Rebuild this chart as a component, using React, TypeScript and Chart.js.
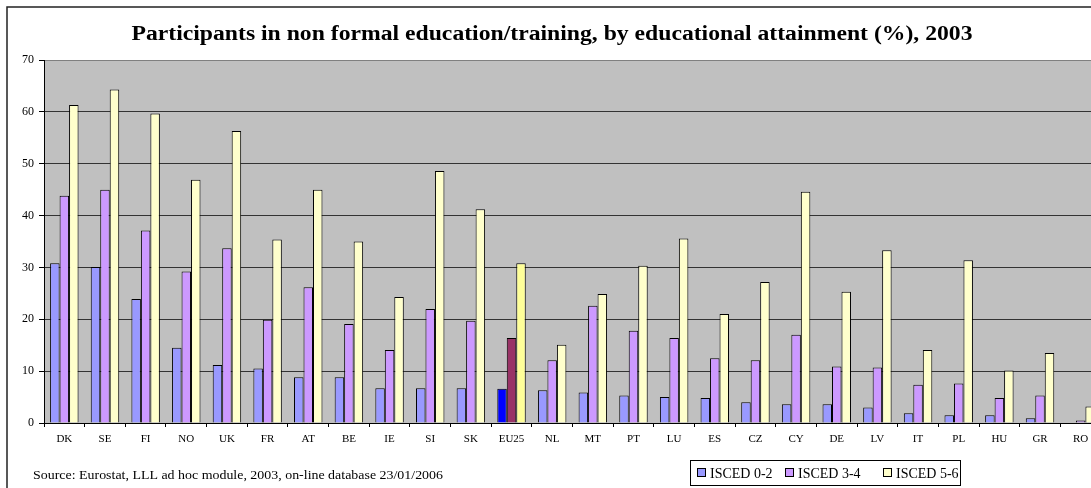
import React, { useEffect, useRef } from 'react';
import { Chart, registerables } from 'chart.js';

Chart.register(...registerables);

const countries = ['DK', 'SE', 'FI', 'NO', 'UK', 'FR', 'AT', 'BE', 'IE', 'SI', 'SK', 'EU25', 'NL', 'MT', 'PT', 'LU', 'ES', 'CZ', 'CY', 'DE', 'LV', 'IT', 'PL', 'HU', 'GR', 'RO'];
const isced02 = [30.8, 30.1, 23.9, 14.5, 11.2, 10.5, 8.8, 8.8, 6.7, 6.7, 6.7, 6.6, 6.3, 5.9, 5.3, 5.0, 4.8, 4.0, 3.6, 3.6, 3.0, 1.9, 1.5, 1.5, 0.9, 0];
const isced34 = [43.8, 45.0, 37.1, 29.2, 33.7, 19.9, 26.2, 19.1, 14.1, 22.0, 19.7, 16.4, 12.1, 22.6, 17.8, 16.4, 12.5, 12.1, 17.0, 10.9, 10.7, 7.4, 7.6, 4.8, 5.3, 0.5];
const isced56 = [61.3, 64.3, 59.7, 46.9, 56.3, 35.4, 45.0, 35.0, 24.3, 48.6, 41.2, 30.8, 15.1, 24.9, 30.3, 35.6, 21.0, 27.2, 44.6, 25.3, 33.3, 14.1, 31.4, 10.1, 13.5, 3.2];
const yTicks = [0, 10, 20, 30, 40, 50, 60, 70];
const seriesLabels = ['ISCED 0-2', 'ISCED 3-4', 'ISCED 5-6'];
const highlightCategory = 'EU25';
const titleText = 'Participants in non formal education/training, by educational attainment (%), 2003';
const sourceText = 'Source: Eurostat, LLL ad hoc module, 2003, on-line database 23/01/2006';

const normalColors = ['#9999FF', '#CC99FF', '#FFFFCC'];
const highlightColors = ['#0000FF', '#993366', '#FFFF99'];
const SERIF = "'Liberation Serif', 'Times New Roman', serif";

const W = 1112;
const H = 488;

function stretchedText(ctx: CanvasRenderingContext2D, text: string, x: number, y: number, targetWidth: number, align: 'left' | 'center') {
  const w = ctx.measureText(text).width;
  const sx = targetWidth / w;
  ctx.save();
  ctx.translate(x, y);
  ctx.scale(sx, 1);
  ctx.textAlign = align;
  ctx.fillText(text, 0, 0);
  ctx.restore();
}

export default function App() {
  const ref = useRef<HTMLCanvasElement>(null);

  useEffect(() => {
    const canvas = ref.current;
    if (!canvas) return;

    const colorsFor = (i: number) =>
      countries.map((c) => (c === highlightCategory ? highlightColors[i] : normalColors[i]));

    const decor = {
      id: 'decor',
      beforeDraw(chart: any) {
        const { ctx, chartArea } = chart;
        ctx.save();
        ctx.fillStyle = '#FFFFFF';
        ctx.fillRect(0, 0, chart.width, chart.height);
        ctx.fillStyle = '#C0C0C0';
        ctx.fillRect(chartArea.left, chartArea.top, chartArea.right - chartArea.left, chartArea.bottom - chartArea.top);
        ctx.restore();
      },
      afterDraw(chart: any) {
        const { ctx } = chart;
        ctx.save();
        // outer frame
        ctx.strokeStyle = '#222222';
        ctx.lineWidth = 1.5;
        ctx.strokeRect(7, 7, 1100, 500);
        // title
        ctx.fillStyle = '#000';
        ctx.font = `bold 20px ${SERIF}`;
        ctx.textBaseline = 'alphabetic';
        stretchedText(ctx, titleText, 552, 40, 841, 'center');
        // source
        ctx.font = `13px ${SERIF}`;
        stretchedText(ctx, sourceText, 33, 479, 410, 'left');
        // legend
        ctx.strokeStyle = '#000';
        ctx.lineWidth = 1;
        ctx.fillStyle = '#FFFFFF';
        ctx.fillRect(690.5, 460.5, 270, 25);
        ctx.strokeRect(690.5, 460.5, 270, 25);
        const sq = [697, 785, 883];
        ctx.font = `14px ${SERIF}`;
        ctx.textAlign = 'left';
        seriesLabels.forEach((lab, i) => {
          ctx.fillStyle = normalColors[i];
          ctx.fillRect(sq[i] + 0.5, 468.5, 8, 8);
          ctx.strokeStyle = '#000';
          ctx.strokeRect(sq[i] + 0.5, 468.5, 8, 8);
          ctx.fillStyle = '#000';
          ctx.fillText(lab, sq[i] + 13, 478);
        });
        ctx.restore();
      },
    };

    const chart = new Chart(canvas, {
      type: 'bar',
      data: {
        labels: countries,
        datasets: [isced02, isced34, isced56].map((d, i) => ({
          label: seriesLabels[i],
          data: d,
          backgroundColor: colorsFor(i),
          borderColor: '#000000',
          borderWidth: 1,
          categoryPercentage: 0.7,
          barPercentage: 1,
        })),
      },
      options: {
        responsive: false,
        animation: false,
        devicePixelRatio: 1,
        layout: { padding: { top: 60, right: 11, bottom: 0, left: 0 } },
        plugins: {
          legend: { display: false },
          title: { display: false },
          tooltip: { enabled: false },
        },
        scales: {
          x: {
            grid: { drawOnChartArea: false, drawTicks: true, tickLength: 4, tickColor: '#000', offset: true },
            border: { color: '#000', width: 1 },
            ticks: { color: '#000', font: { family: SERIF, size: 11 }, padding: 6, maxRotation: 0, autoSkip: false },
            afterFit: (s: any) => {
              s.height = 65;
            },
          },
          y: {
            min: 0,
            max: 70,
            afterBuildTicks: (s: any) => {
              s.ticks = yTicks.map((v) => ({ value: v }));
            },
            ticks: { color: '#000', font: { family: SERIF, size: 12 }, padding: 5 },
            grid: {
              color: (c: any) => (c.tick && c.tick.value === 70 ? '#808080' : '#333333'),
              tickLength: 5,
              tickColor: '#000',
            },
            border: { color: '#000', width: 1 },
            afterFit: (s: any) => {
              s.width = 44;
            },
          },
        },
      },
      plugins: [decor],
    } as any);

    return () => chart.destroy();
  }, []);

  return (
    <div style={{ position: 'absolute', left: 0, top: 0, width: 1091, height: 488, overflow: 'hidden', background: '#fff' }}>
      <canvas ref={ref} width={W} height={H} style={{ display: 'block' }} />
    </div>
  );
}
